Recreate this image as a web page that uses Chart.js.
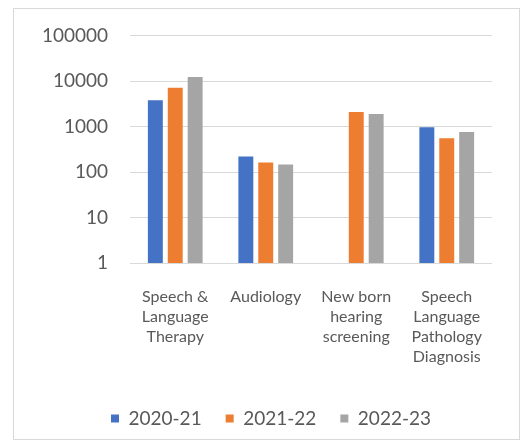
<!DOCTYPE html>
<html>
<head>
<meta charset="utf-8">
<script src="https://cdn.jsdelivr.net/npm/chart.js@4"></script>
<style>
  html, body { margin: 0; padding: 0; background: #fff; }
  #frame { position: absolute; left: 13px; top: 8px; width: 505px; height: 430px; border: 1px solid #d9d9d9; }
  #wrap { position: absolute; left: 0; top: 0; width: 526px; height: 448px; }
</style>
</head>
<body>
<div id="frame"></div>
<div id="wrap"><canvas id="chart" width="526" height="448"></canvas></div>
<script>
// data
const categories = [
    ["Speech &", "Language", "Therapy"],
    ["Audiology"],
    ["New born", "hearing", "screening"],
    ["Speech", "Language", "Pathology", "Diagnosis"]
];
const seriesNames = ["2020-21", "2021-22", "2022-23"];
const values2020 = [3800, 220, null, 970];
const values2021 = [7100, 163, 2090, 550];
const values2022 = [12300, 147, 1890, 760];
const yTicks = [1, 10, 100, 1000, 10000, 100000];

const colors = ["#4472c4", "#ed7d31", "#a5a5a5"];
const textColor = "#595959";
const fontFamily = "Lato, 'Liberation Sans', sans-serif";

const datasets = [values2020, values2021, values2022].map((vals, i) => ({
    label: seriesNames[i],
    data: vals,
    backgroundColor: colors[i],
    borderWidth: 0,
    categoryPercentage: 0.66,
    barPercentage: 0.75
}));

// legend sits a bit right of centre in the original
const legendShift = {
    id: "legendShift",
    afterLayout(chart) {
        chart.legend.left += 15;
        chart.legend.right += 15;
    }
};

new Chart(document.getElementById("chart"), {
    type: "bar",
    data: { labels: categories, datasets },
    plugins: [legendShift],
    options: {
        responsive: false,
        animation: false,
        layout: { padding: { left: 20, right: 34, top: 35.6, bottom: 10 } },
        plugins: {
            tooltip: { enabled: false },
            legend: {
                position: "bottom",
                labels: {
                    boxWidth: 8, boxHeight: 8, padding: 24,
                    color: textColor,
                    font: { family: fontFamily, size: 19 }
                }
            }
        },
        scales: {
            x: {
                grid: { display: false, drawTicks: false },
                border: { display: false },
                afterFit: s => { s.height -= 6; },
                ticks: {
                    color: textColor, padding: 24, maxRotation: 0, autoSkip: false,
                    font: { family: fontFamily, size: 16, lineHeight: 1.25 }
                }
            },
            y: {
                type: "logarithmic",
                min: 1, max: 100000,
                afterBuildTicks: s => { s.ticks = yTicks.map(v => ({ value: v })); },
                afterFit: s => { s.width = 110; },
                grid: { color: "#d9d9d9", lineWidth: 1, drawTicks: false },
                border: { display: false },
                ticks: {
                    color: textColor, padding: 22,
                    font: { family: fontFamily, size: 19 },
                    callback: v => String(v)
                }
            }
        }
    }
});
</script>
</body>
</html>
